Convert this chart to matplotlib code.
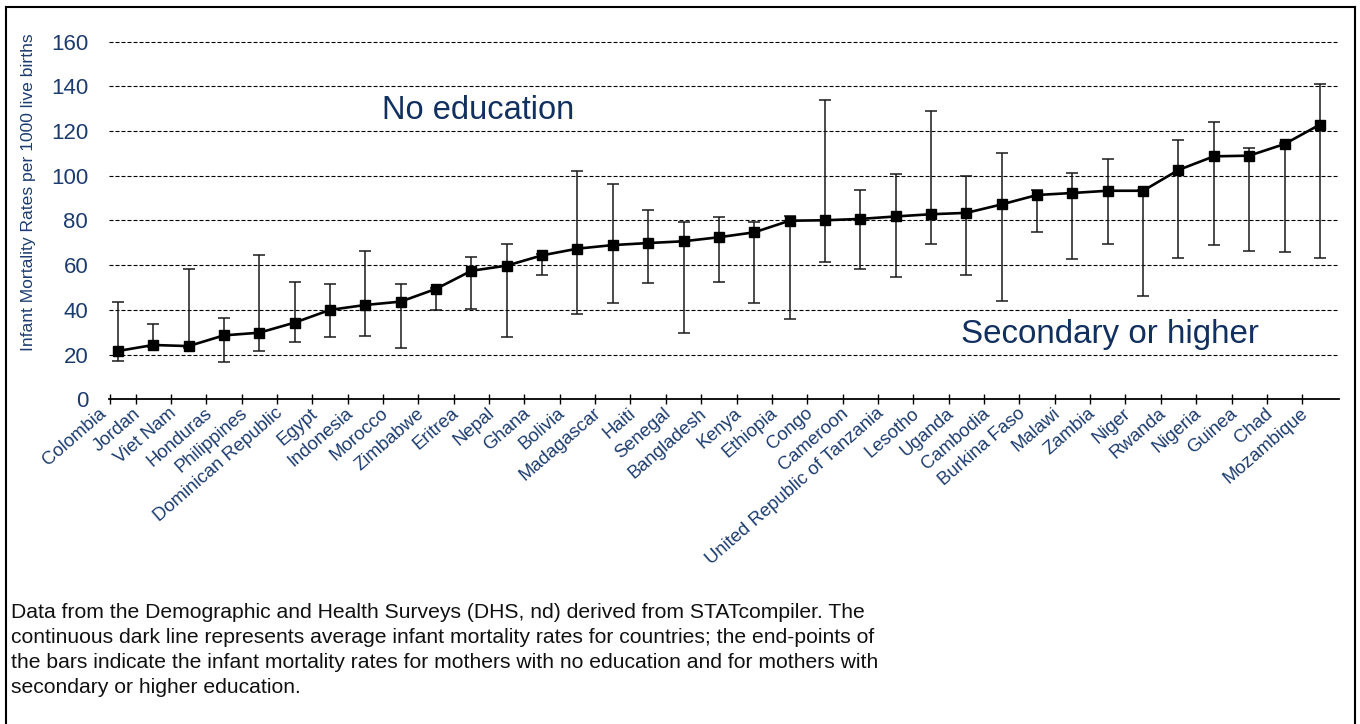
import numpy as np
import matplotlib
matplotlib.use("Agg")
import matplotlib.pyplot as plt
from matplotlib import font_manager as fm
from matplotlib.lines import Line2D

# Infant mortality (per 1000 live births) by country, DHS / STATcompiler
countries = ["Colombia", "Jordan", "Viet Nam", "Honduras", "Philippines",
             "Dominican Republic", "Egypt", "Indonesia", "Morocco", "Zimbabwe",
             "Eritrea", "Nepal", "Ghana", "Bolivia", "Madagascar", "Haiti",
             "Senegal", "Bangladesh", "Kenya", "Ethiopia", "Congo", "Cameroon",
             "United Republic of Tanzania", "Lesotho", "Uganda", "Cambodia",
             "Burkina Faso", "Malawi", "Zambia", "Niger", "Rwanda", "Nigeria",
             "Guinea", "Chad", "Mozambique"]

average = [21.6, 24.3, 23.8, 28.6, 29.8, 34.3, 40.0, 42.2, 43.7, 49.4,
           57.5, 59.8, 64.4, 67.4, 69.0, 69.9, 70.7, 72.5, 74.7, 79.9,
           80.1, 80.7, 81.8, 82.8, 83.4, 87.2, 91.4, 92.3, 93.3, 93.3,
           102.6, 108.7, 109.0, 114.2, 122.9]

no_education = [43.4, 33.7, 58.2, 36.5, 64.4, 52.6, 51.7, 66.5, 51.7, 50.0,
                63.8, 69.4, 65.0, 102.0, 96.3, 84.8, 79.2, 81.4, 79.3, 82.1,
                133.9, 93.8, 100.7, 129.0, 99.9, 110.3, 93.6, 101.1, 107.4, 93.8,
                116.2, 123.9, 112.4, 114.8, 141.1]

secondary = [17.1, 23.6, 23.0, 16.7, 21.6, 25.5, 27.9, 28.5, 23.1, 40.0,
             40.3, 27.9, 55.6, 38.2, 42.9, 52.2, 29.8, 52.6, 43.0, 36.1,
             61.4, 58.3, 54.9, 69.4, 55.6, 44.0, 74.7, 62.6, 69.4, 46.4,
             63.1, 68.9, 66.5, 65.9, 63.1]

y_ticks = [0, 20, 40, 60, 80, 100, 120, 140, 160]

caption_lines = [
    "Data from the Demographic and Health Surveys (DHS, nd) derived from STATcompiler. The",
    "continuous dark line represents average infant mortality rates for countries; the end-points of",
    "the bars indicate the infant mortality rates for mothers with no education and for mothers with",
    "secondary or higher education.",
]


def has_font(name):
    try:
        fm.findfont(fm.FontProperties(family=name), fallback_to_default=False)
        return True
    except ValueError:
        return False


BASE = "Liberation Sans"
NARROW_OK = has_font("Liberation Sans Narrow")
NARROW = "Liberation Sans Narrow" if NARROW_OK else BASE
plt.rcParams["font.family"] = [BASE, "DejaVu Sans"]

NAVY = "#12305f"
TICK_NAVY = "#1d3c6e"

W, H = 1360, 724
fig = plt.figure(figsize=(W / 100, H / 100), dpi=100)
fig.patch.set_facecolor("white")


def fx(px):
    return px / W


def fy(py):
    return 1 - py / H


# plot area
x_left, x_right = -0.23, 34.54
y_top = 162
ax = fig.add_axes([fx(109), fy(399.3), fx(1339) - fx(109), (399.3 - 37.2) / H])
ax.set_xlim(x_left, x_right)
ax.set_ylim(0, y_top)

x = np.arange(len(countries))
avg = np.array(average)
hi = np.array(no_education)
lo = np.array(secondary)

# bars spanning secondary-or-higher to no-education rates
ax.errorbar(x, avg, yerr=[avg - lo, hi - avg], fmt="none", ecolor="#1a1a1a",
            elinewidth=1.1, capsize=4.3, capthick=1.1, zorder=3)
ax.plot(x, avg, color="black", lw=1.9, marker="s", markersize=6.8,
        markerfacecolor="black", markeredgecolor="black", zorder=4)

# dashed horizontal grid
for yv in y_ticks[1:]:
    ax.axhline(yv, color="black", lw=0.8, linestyle=(0, (3.6, 1.8)), zorder=1)

for side in ("top", "right", "left"):
    ax.spines[side].set_visible(False)
ax.spines["bottom"].set_color("black")
ax.spines["bottom"].set_linewidth(1.3)

# y axis labels
ax.set_yticks(y_ticks)
ax.set_yticklabels([str(v) for v in y_ticks])
ax.tick_params(axis="y", length=0, pad=15.0, labelsize=16.0, labelcolor=TICK_NAVY)

# category boundary ticks and slanted country names
boundaries = [x_left] + [i + 0.5 for i in range(len(countries) - 1)]
ax.set_xticks(boundaries, minor=True)
ax.set_xticks(x - 0.25)
ax.set_xticklabels(countries, rotation=41, ha="right", va="top",
                   fontsize=(15.5 if NARROW_OK else 13.3), family=NARROW,
                   color=TICK_NAVY)
ax.tick_params(axis="x", which="major", length=0, pad=4.0)
ax.tick_params(axis="x", which="minor", direction="inout", length=6.5,
               width=1.0, color="black")

# y axis title
fig.text(fx(29), fy(192), "Infant Mortality Rates per 1000 live births",
         rotation=90, ha="center", va="center", color=TICK_NAVY,
         family=NARROW, fontsize=(15.4 if NARROW_OK else 12.6))

# in-plot annotations
fig.text(fx(382), fy(119.3), "No education", ha="left", va="baseline",
         fontsize=23.5, color=NAVY)
fig.text(fx(961), fy(343.3), "Secondary or higher", ha="left", va="baseline",
         fontsize=23.9, color=NAVY)

# caption
for k, line in enumerate(caption_lines):
    fig.text(fx(11), fy(618.3 + 25 * k), line, ha="left", va="baseline",
             fontsize=15.2, color="#111111")

# outer frame
frame_kw = dict(color="black", lw=1.5, transform=fig.transFigure)
fig.add_artist(Line2D([fx(6), fx(6)], [fy(6.7), -0.02], **frame_kw))
fig.add_artist(Line2D([fx(6), fx(1355)], [fy(6.7), fy(6.7)], **frame_kw))
fig.add_artist(Line2D([fx(1355), fx(1355)], [fy(6.7), -0.02], **frame_kw))

fig.savefig("out.png", dpi=100, facecolor="white")
